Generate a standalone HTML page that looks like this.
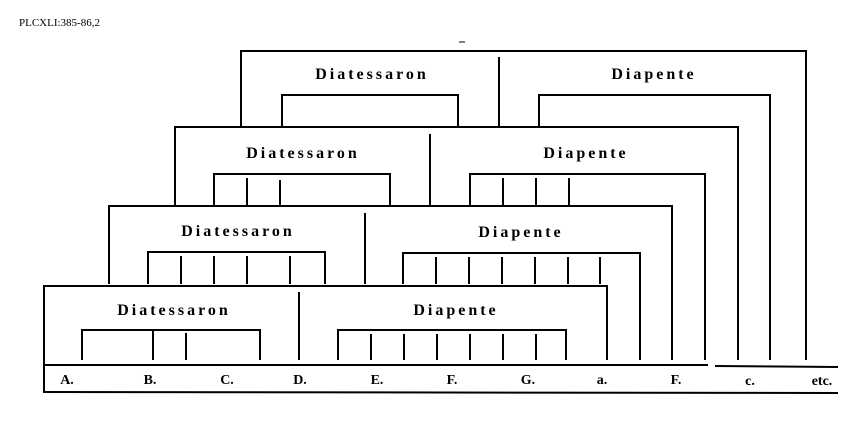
<!DOCTYPE html>
<html><head><meta charset="utf-8"><style>
html,body{margin:0;padding:0;background:#fff;}
svg{display:block}
.t{font-family:"Liberation Serif",serif;font-weight:bold;font-size:16px;fill:#000;letter-spacing:3px}
.l{font-family:"Liberation Serif",serif;font-weight:bold;font-size:14px;fill:#000}
</style></head><body>
<svg width="862" height="432" viewBox="0 0 862 432" xmlns="http://www.w3.org/2000/svg">
<rect width="862" height="432" fill="#fff"/>
<text x="19" y="26" font-family="Liberation Serif,serif" font-size="11" fill="#000">PLCXLI:385-86,2</text>
<g stroke="#000" stroke-width="2" fill="none">
<line x1="459" y1="42" x2="465" y2="42" stroke-width="1"/>
<polyline points="241,127 241,51 806,51 806,360"/>
<line x1="499" y1="57" x2="499" y2="127"/>
<polyline points="282,127 282,95 458,95 458,127"/>
<polyline points="539,127 539,95 770,95 770,360"/>
<polyline points="175,205 175,127 738,127 738,360"/>
<line x1="430" y1="134" x2="430" y2="205"/>
<polyline points="214,205 214,174 390,174 390,205"/>
<line x1="247" y1="178" x2="247" y2="205"/><line x1="280" y1="180" x2="280" y2="205"/>
<polyline points="470,205 470,174 705,174 705,360"/>
<line x1="503" y1="178" x2="503" y2="205"/><line x1="536" y1="178" x2="536" y2="205"/><line x1="569" y1="178" x2="569" y2="205"/>
<polyline points="109,284 109,206 672,206 672,360"/>
<line x1="365" y1="213" x2="365" y2="284"/>
<polyline points="148,284 148,252 325,252 325,284"/>
<line x1="181" y1="256" x2="181" y2="284"/><line x1="214" y1="256" x2="214" y2="284"/><line x1="247" y1="256" x2="247" y2="284"/><line x1="290" y1="256" x2="290" y2="284"/>
<polyline points="403,284 403,253 640,253 640,360"/>
<line x1="436" y1="257" x2="436" y2="284"/><line x1="469" y1="257" x2="469" y2="284"/><line x1="502" y1="257" x2="502" y2="284"/><line x1="535" y1="257" x2="535" y2="284"/><line x1="568" y1="257" x2="568" y2="284"/><line x1="600" y1="257" x2="600" y2="284"/>
<polyline points="44,393 44,286 607,286 607,360"/>
<line x1="299" y1="292" x2="299" y2="360"/>
<polyline points="82,360 82,330 260,330 260,360"/>
<line x1="153" y1="330" x2="153" y2="360"/><line x1="186" y1="333" x2="186" y2="360"/>
<polyline points="338,360 338,330 566,330 566,360"/>
<line x1="371" y1="334" x2="371" y2="360"/><line x1="404" y1="334" x2="404" y2="360"/><line x1="437" y1="334" x2="437" y2="360"/><line x1="470" y1="334" x2="470" y2="360"/><line x1="503" y1="334" x2="503" y2="360"/><line x1="536" y1="334" x2="536" y2="360"/>
<line x1="44" y1="365" x2="708" y2="365"/>
<line x1="715" y1="366" x2="838" y2="367"/>
<line x1="44" y1="392" x2="838" y2="393"/>
</g>
<text class="t" x="372" y="79" text-anchor="middle">Diatessaron</text>
<text class="t" x="654" y="79" text-anchor="middle">Diapente</text>
<text class="t" x="303" y="158" text-anchor="middle">Diatessaron</text>
<text class="t" x="586" y="158" text-anchor="middle">Diapente</text>
<text class="t" x="238" y="236" text-anchor="middle">Diatessaron</text>
<text class="t" x="521" y="237" text-anchor="middle">Diapente</text>
<text class="t" x="174" y="315" text-anchor="middle">Diatessaron</text>
<text class="t" x="456" y="315" text-anchor="middle">Diapente</text>
<g class="l" text-anchor="middle">
<text x="67" y="384">A.</text><text x="150" y="384">B.</text><text x="227" y="384">C.</text><text x="300" y="384">D.</text><text x="377" y="384">E.</text><text x="452" y="384">F.</text><text x="528" y="384">G.</text><text x="602" y="384">a.</text><text x="676" y="384">F.</text><text x="750" y="385">c.</text><text x="822" y="385">etc.</text>
</g>
</svg>
</body></html>
